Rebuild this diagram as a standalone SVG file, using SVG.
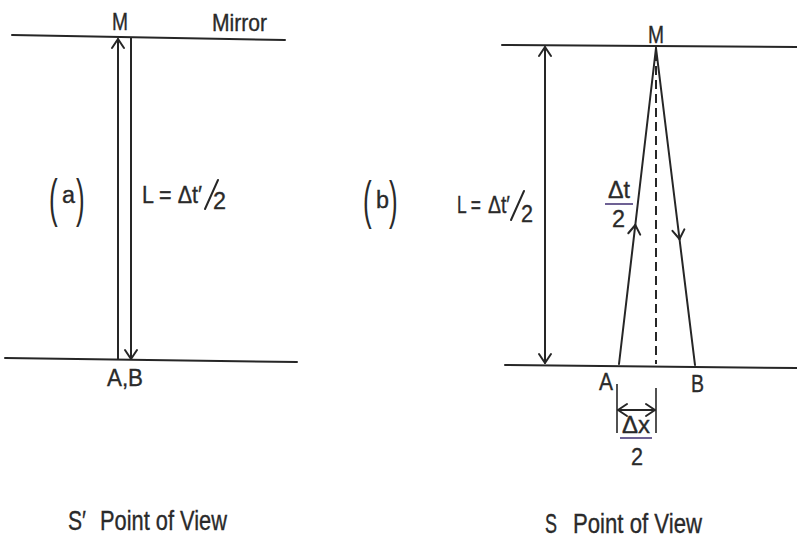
<svg xmlns="http://www.w3.org/2000/svg" width="797" height="546" viewBox="0 0 797 546">
<style>
  .ln{stroke:#262626;stroke-width:2;fill:none;stroke-linecap:round}
  .thin{stroke:#262626;stroke-width:1.6;fill:none}
  .dash{stroke:#262626;stroke-width:2;fill:none;stroke-dasharray:9 5}
  .bar{stroke:#4a3a7a;stroke-width:1.6}
  text{font-family:"Liberation Sans",Arial,sans-serif;fill:#2a2a2a;stroke:#2a2a2a;stroke-width:0.35}
  .lb{font-size:24px}
  .md{font-size:22px}
  .sm{font-size:23px}
  .big{font-size:27px}
  .par{font-size:52px;stroke-width:0}
</style>
<defs>
  <marker id="ah" viewBox="-12 -8 14 16" markerWidth="14" markerHeight="16" refX="0" refY="0" orient="auto-start-reverse" markerUnits="userSpaceOnUse">
    <path d="M-9,-6 L0,0 L-9,6" fill="none" stroke="#262626" stroke-width="2" stroke-linecap="round" stroke-linejoin="round"/>
  </marker>
</defs>
<rect width="797" height="546" fill="#ffffff"/>

<g id="connectors">
  <path class="ln" d="M12,35 L285,40"/>
  <path class="ln" d="M5,358 L297,362"/>
  <path class="ln" d="M118,359 L118,39" marker-end="url(#ah)"/>
  <path class="ln" d="M131,38 L131,359" marker-end="url(#ah)"/>
  <path class="ln" d="M502,45 L797,47"/>
  <path class="ln" d="M505,365 L797,368"/>
  <path class="ln" d="M545,47 L545,363" marker-start="url(#ah)" marker-end="url(#ah)"/>
  <path class="ln" d="M619,364 L635.3,225" marker-end="url(#ah)"/>
  <path class="ln" d="M635.3,225 L656,48"/>
  <path class="ln" d="M656,48 L679.5,239" marker-end="url(#ah)"/>
  <path class="ln" d="M679.5,239 L695,365"/>
  <path class="dash" d="M656,52 L656,364"/>
  <path class="thin" d="M617,384 L617,433"/>
  <path class="thin" d="M656,388 L656,433"/>
  <path class="ln" d="M618,410 L655,410" marker-start="url(#ah)" marker-end="url(#ah)"/>
</g>

<g id="labels-a">
  <text class="lb" x="112" y="30" textLength="16" lengthAdjust="spacingAndGlyphs">M</text>
  <text class="lb" x="212" y="31" textLength="55" lengthAdjust="spacingAndGlyphs">Mirror</text>
  <text class="lb" x="107" y="386" textLength="36" lengthAdjust="spacingAndGlyphs">A,B</text>
  <g id="label-a">
    <text class="par" x="49" y="216" transform="translate(49 0) scale(0.5 1) translate(-49 0)">(</text>
    <text class="sm" x="62" y="203" textLength="13" lengthAdjust="spacingAndGlyphs">a</text>
    <text class="par" x="76" y="216" transform="translate(76 0) scale(0.5 1) translate(-76 0)">)</text>
  </g>
  <g id="L-a">
    <text class="lb" x="142" y="203" textLength="60" lengthAdjust="spacingAndGlyphs">L = Δt′</text>
    <path class="ln" d="M205,209 L218,180"/>
    <text class="sm" x="213" y="209" textLength="13" lengthAdjust="spacingAndGlyphs">2</text>
  </g>
  <text class="big" x="68" y="530" textLength="18" lengthAdjust="spacingAndGlyphs">S′</text>
  <text class="big" x="100" y="530" textLength="127" lengthAdjust="spacingAndGlyphs">Point of View</text>
</g>

<g id="labels-b">
  <text class="lb" x="648" y="43" textLength="16" lengthAdjust="spacingAndGlyphs">M</text>
  <g id="label-b">
    <text class="par" x="363" y="218" transform="translate(363 0) scale(0.5 1) translate(-363 0)">(</text>
    <text class="sm" x="376" y="208" textLength="13" lengthAdjust="spacingAndGlyphs">b</text>
    <text class="par" x="389" y="218" transform="translate(389 0) scale(0.5 1) translate(-389 0)">)</text>
  </g>
  <g id="L-b">
    <text class="lb" x="457" y="213" textLength="24" lengthAdjust="spacingAndGlyphs">L =</text>
    <text class="lb" x="488" y="213" textLength="22" lengthAdjust="spacingAndGlyphs">Δt′</text>
    <path class="ln" d="M511,220 L524,191"/>
    <text class="sm" x="521" y="222" textLength="12" lengthAdjust="spacingAndGlyphs">2</text>
  </g>
  <g id="dt-half">
    <text class="sm" x="608" y="198" textLength="22" lengthAdjust="spacingAndGlyphs">Δt</text>
    <line class="bar" x1="605" y1="204" x2="633" y2="204"/>
    <text class="sm" x="612" y="227" textLength="13" lengthAdjust="spacingAndGlyphs">2</text>
  </g>
  <text class="lb" x="599" y="390" textLength="14" lengthAdjust="spacingAndGlyphs">A</text>
  <text class="lb" x="691" y="392" textLength="13" lengthAdjust="spacingAndGlyphs">B</text>
  <g id="dx-half">
    <text class="sm" x="622" y="433" textLength="28" lengthAdjust="spacingAndGlyphs">Δx</text>
    <line class="bar" x1="620" y1="438" x2="652" y2="438"/>
    <text class="sm" x="631" y="465" textLength="12" lengthAdjust="spacingAndGlyphs">2</text>
  </g>
  <text class="big" x="545" y="533" textLength="12" lengthAdjust="spacingAndGlyphs">S</text>
  <text class="big" x="573" y="533" textLength="129" lengthAdjust="spacingAndGlyphs">Point of View</text>
</g>
</svg>
